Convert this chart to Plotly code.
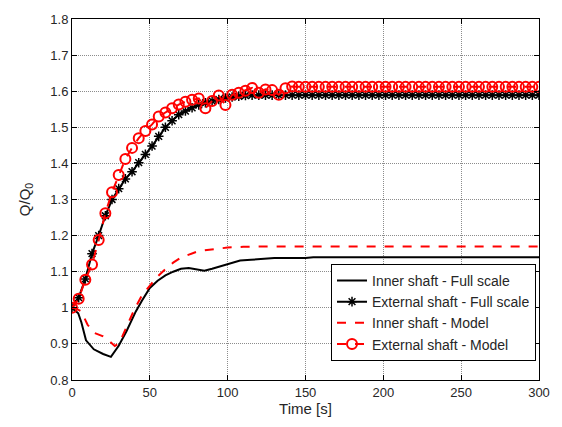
import plotly.graph_objects as go

# Time grid for the marker series (s)
t_ext = [0, 4.29, 8.57, 12.86, 17.14, 21.43, 25.71, 30, 34.29, 38.57, 42.86, 47.14,
         51.43, 55.71, 60, 64.29, 68.57, 72.86, 77.14, 81.43, 85.71, 90, 94.29, 98.57,
         102.86, 107.14, 111.43, 115.71, 120, 124.29, 128.57, 132.86, 137.14, 141.43,
         145.71, 150, 154.29, 158.57, 162.86, 167.14, 171.43, 175.71, 180, 184.29,
         188.57, 192.86, 197.14, 201.43, 205.71, 210, 214.29, 218.57, 222.86, 227.14,
         231.43, 235.71, 240, 244.29, 248.57, 252.86, 257.14, 261.43, 265.71, 270,
         274.29, 278.57, 282.86, 287.14, 291.43, 295.71, 300]

ext_full = [1.0, 1.028, 1.08, 1.15, 1.2, 1.255, 1.3, 1.33, 1.357, 1.377, 1.402, 1.425,
            1.448, 1.475, 1.5, 1.518, 1.535, 1.545, 1.554, 1.562, 1.568, 1.573, 1.577,
            1.581, 1.584, 1.586, 1.588, 1.589, 1.589, 1.589, 1.589, 1.589, 1.589, 1.589,
            1.589, 1.589, 1.589, 1.589, 1.589, 1.589, 1.589, 1.589, 1.589, 1.589, 1.589,
            1.589, 1.589, 1.589, 1.589, 1.589, 1.589, 1.589, 1.589, 1.589, 1.589, 1.589,
            1.589, 1.589, 1.589, 1.589, 1.589, 1.589, 1.589, 1.589, 1.589, 1.589, 1.589,
            1.589, 1.589, 1.589, 1.589]

ext_model = [1.0, 1.025, 1.078, 1.12, 1.188, 1.262, 1.32, 1.368, 1.412, 1.443, 1.47,
             1.49, 1.508, 1.53, 1.541, 1.553, 1.563, 1.571, 1.576, 1.58, 1.553, 1.573,
             1.588, 1.562, 1.59, 1.596, 1.601, 1.609, 1.596, 1.605, 1.603, 1.59, 1.608,
             1.613, 1.612, 1.612, 1.612, 1.612, 1.612, 1.612, 1.612, 1.612, 1.612, 1.612,
             1.612, 1.612, 1.612, 1.612, 1.612, 1.612, 1.612, 1.612, 1.612, 1.612, 1.612,
             1.612, 1.612, 1.612, 1.612, 1.612, 1.612, 1.612, 1.612, 1.612, 1.612, 1.612,
             1.612, 1.612, 1.612, 1.612, 1.612]

t_in_full = [0, 4, 6, 9, 14, 20, 25, 30, 35, 41, 45, 50, 55, 60, 65, 70, 75, 80, 85,
             90, 95, 100, 108, 115, 120, 130, 150, 155, 300]
in_full = [1.0, 0.985, 0.96, 0.91, 0.885, 0.872, 0.864, 0.895, 0.935, 0.99, 1.02,
           1.055, 1.075, 1.09, 1.1, 1.108, 1.11, 1.107, 1.103, 1.108, 1.115, 1.122,
           1.131, 1.133, 1.134, 1.138, 1.138, 1.14, 1.14]

t_in_model = [0, 3, 6, 10, 14.5, 20, 24, 27.5, 30.5, 36, 40, 45, 50, 55, 60, 65, 70,
              75, 80, 85, 90, 95, 100, 110, 120, 300]
in_model = [1.0, 0.997, 0.99, 0.953, 0.93, 0.921, 0.908, 0.894, 0.903, 0.955, 0.995,
            1.035, 1.062, 1.087, 1.107, 1.125, 1.139, 1.148, 1.155, 1.159, 1.162,
            1.165, 1.167, 1.169, 1.17, 1.17]

legend_names = ["Inner shaft - Full scale", "External shaft - Full scale",
                "Inner shaft - Model", "External shaft - Model"]

x_ticks = [0, 50, 100, 150, 200, 250, 300]
y_ticks = [0.8, 0.9, 1.0, 1.1, 1.2, 1.3, 1.4, 1.5, 1.6, 1.7, 1.8]

FONT = "Liberation Sans, Arial"

fig = go.Figure()
fig.add_trace(go.Scatter(x=t_in_full, y=in_full, mode="lines", name=legend_names[0],
                         line=dict(color="black", width=2)))
fig.add_trace(go.Scatter(x=t_ext, y=ext_full, mode="lines+markers", name=legend_names[1],
                         line=dict(color="black", width=2),
                         marker=dict(symbol="asterisk-open", size=8,
                                     line=dict(color="black", width=1.5))))
fig.add_trace(go.Scatter(x=t_in_model, y=in_model, mode="lines", name=legend_names[2],
                         line=dict(color="red", width=2, dash="dash")))
fig.add_trace(go.Scatter(x=t_ext, y=ext_model, mode="lines+markers", name=legend_names[3],
                         line=dict(color="red", width=2, dash="dash"),
                         marker=dict(symbol="circle-open", size=10,
                                     line=dict(color="red", width=2))))

axis_common = dict(showline=True, linecolor="black", linewidth=1, mirror="ticks",
                   ticks="inside", ticklen=5, tickcolor="black",
                   showgrid=True, gridcolor="#8c8c8c", griddash="1px,1px", gridwidth=1,
                   zeroline=False,
                   tickfont=dict(family=FONT, size=13, color="#262626"))

fig.update_xaxes(range=[0, 300], tickvals=x_ticks,
                 title=dict(text="Time [s]", font=dict(family=FONT, size=15, color="#262626"),
                            standoff=4),
                 **axis_common)
fig.update_yaxes(range=[0.8, 1.8], tickvals=y_ticks,
                 title=dict(text="Q/Q<sub>0</sub>", font=dict(family=FONT, size=15, color="#262626"),
                            standoff=16),
                 **axis_common)

fig.update_layout(
    width=562, height=427,
    margin=dict(l=72, r=21, t=13, b=47),
    paper_bgcolor="white", plot_bgcolor="white",
    showlegend=True,
    legend=dict(x=0.9936, y=0.053, xanchor="right", yanchor="bottom",
                bgcolor="white", bordercolor="black", borderwidth=1,
                font=dict(family=FONT, size=14, color="#262626"),
                tracegroupgap=0),
)

fig.write_html("out.html")
